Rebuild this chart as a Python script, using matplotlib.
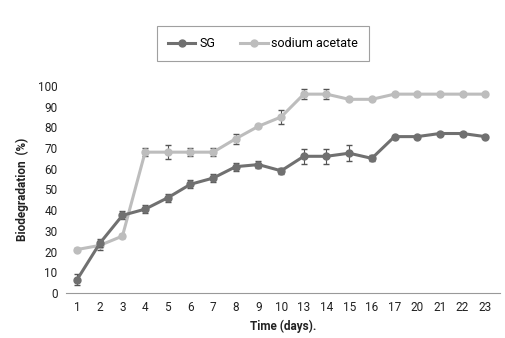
import numpy as np
import matplotlib
matplotlib.use("Agg")
import matplotlib.pyplot as plt
from matplotlib.lines import Line2D

# Data
days = ["1", "2", "3", "4", "5", "6", "7", "8", "9", "10",
        "13", "14", "15", "16", "17", "20", "21", "22", "23"]
sg = [6.5, 24, 37.5, 40.5, 46, 52.5, 55.5, 61, 62, 59,
      66, 66, 67.5, 65, 75.5, 75.5, 77, 77, 75.5]
sg_err = [2.5, 2, 2, 2, 2, 2, 2, 2, 1.5, 1.5,
          3.5, 3.5, 4, 1.5, 0.5, 0.5, 0.5, 0.5, 0.5]
acetate = [21, 23, 27.5, 68, 68, 68, 68, 74.5, 80.5, 85,
           96, 96, 93.5, 93.5, 96, 96, 96, 96, 96]
acetate_err = [0.5, 2, 1, 2, 3.5, 2, 2, 2.5, 0.5, 3.5,
               2.5, 2.5, 0.5, 0.5, 0.5, 0.5, 0.5, 0.5, 0.5]

SG_COL = '#707070'
AC_COL = '#bdbdbd'

plt.rcParams['font.family'] = ['Roboto', 'DejaVu Sans']

fig = plt.figure(figsize=(5.06, 3.38), dpi=100)
ax = fig.add_axes([0.130, 0.133, 0.858, 0.613])

x = np.arange(1, len(days) + 1)
ax.errorbar(x, acetate, yerr=acetate_err, color=AC_COL, lw=2.2,
            marker='o', ms=5, ecolor='#555555', elinewidth=0.8, capsize=2.5,
            zorder=2)
ax.errorbar(x, sg, yerr=sg_err, color=SG_COL, lw=2.2,
            marker='o', ms=5, ecolor='#555555', elinewidth=0.8, capsize=2.5,
            zorder=3)

ax.set_xlim(0.5, 19.65)
ax.set_ylim(0, 100)
ax.set_yticks(range(0, 101, 10))
ax.set_xticks(x)
ax.set_xticklabels(days)
ax.tick_params(length=0, labelsize=8.5, colors='#222222', pad=6)
for s in ['top', 'right', 'left']:
    ax.spines[s].set_visible(False)
ax.spines['bottom'].set_color('#999999')
ax.spines['bottom'].set_linewidth(0.8)

ax.set_xlabel('Time (days).', fontsize=8.5, fontweight='bold', color='#222222', labelpad=4)
ax.set_ylabel('Biodegradation  (%)', fontsize=8.5, fontweight='bold', color='#222222', labelpad=6)

handles = [Line2D([], [], color=SG_COL, lw=2.2, marker='o', ms=5),
           Line2D([], [], color=AC_COL, lw=2.2, marker='o', ms=5)]
leg = fig.legend(handles, ['SG', 'sodium acetate'], loc='center', ncol=2,
                 bbox_to_anchor=(0.52, 0.871), frameon=True, fancybox=False,
                 fontsize=9, handlelength=2.2, handletextpad=0.3,
                 columnspacing=2.0, borderpad=0.9, borderaxespad=0)
leg.get_frame().set_edgecolor('#888888')
leg.get_frame().set_linewidth(0.8)

fig.savefig('out.png', dpi=100)
